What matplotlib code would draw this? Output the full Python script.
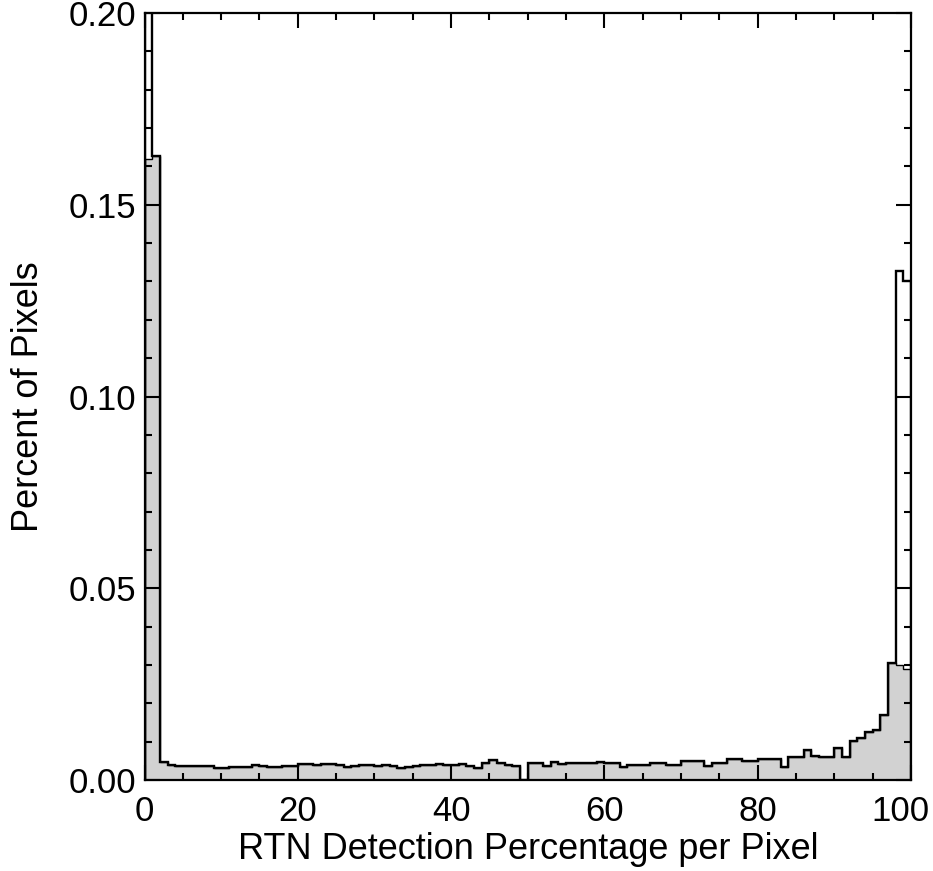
import numpy as np
import matplotlib
matplotlib.use("Agg")
import matplotlib.pyplot as plt
import matplotlib.transforms as mtransforms
from matplotlib.ticker import MultipleLocator, FormatStrFormatter, FuncFormatter

plt.rcParams["font.family"] = ["Liberation Sans", "DejaVu Sans"]

# histogram bin edges: 1% wide bins from 0 to 100
bin_edges = list(range(0, 101))

# fraction of pixels per bin (outline)
bins_0_9 = [0.310, 0.1627, 0.0048, 0.0040, 0.0036, 0.0036, 0.0036, 0.0036, 0.0037, 0.0032]
bins_10_19 = [0.0032, 0.0034, 0.0034, 0.0034, 0.0040, 0.0036, 0.0033, 0.0034, 0.0036, 0.0037]
bins_20_29 = [0.0042, 0.0042, 0.0040, 0.0042, 0.0042, 0.0038, 0.0034, 0.0037, 0.0040, 0.0040]
bins_30_39 = [0.0036, 0.0038, 0.0036, 0.0032, 0.0034, 0.0037, 0.0038, 0.0040, 0.0042, 0.0040]
bins_40_49 = [0.0038, 0.0042, 0.0036, 0.0030, 0.0044, 0.0052, 0.0044, 0.0040, 0.0036, 0.0]
bins_50_59 = [0.0045, 0.0045, 0.0037, 0.0048, 0.0041, 0.0045, 0.0045, 0.0045, 0.0045, 0.0048]
bins_60_69 = [0.0044, 0.0044, 0.0033, 0.0039, 0.0039, 0.0039, 0.0044, 0.0044, 0.0039, 0.0039]
bins_70_79 = [0.0050, 0.0050, 0.0050, 0.0037, 0.0044, 0.0044, 0.0054, 0.0054, 0.0050, 0.0050]
bins_80_89 = [0.0054, 0.0054, 0.0054, 0.0035, 0.0059, 0.0059, 0.0078, 0.0063, 0.0059, 0.0059]
bins_90_99 = [0.0083, 0.0061, 0.0102, 0.0110, 0.0124, 0.0131, 0.0170, 0.0304, 0.1328, 0.1300]

pct_pixels = (bins_0_9 + bins_10_19 + bins_20_29 + bins_30_39 + bins_40_49
              + bins_50_59 + bins_60_69 + bins_70_79 + bins_80_89 + bins_90_99)

# the shaded area stops short of the tallest bins
fill_pixels = list(pct_pixels)
fill_pixels[0] = 0.162
fill_pixels[98] = 0.030
fill_pixels[99] = 0.029

fig = plt.figure(figsize=(9.33, 8.71), dpi=100)
ax = fig.add_axes([0.1549, 0.1045, 0.8215, 0.8805])

ax.stairs(fill_pixels, bin_edges, fill=True, color="#d2d2d2", zorder=1)
ax.stairs(fill_pixels, bin_edges, color="black", linewidth=1.0, zorder=2)
ax.stairs(pct_pixels, bin_edges, color="black", linewidth=1.7, zorder=3)

ax.set_xlim(0, 100)
ax.set_ylim(0, 0.20)
ax.set_axisbelow(False)

ax.xaxis.set_major_locator(MultipleLocator(20))
ax.xaxis.set_minor_locator(MultipleLocator(5))
# the "100" label is placed by hand so it stays inside the figure
ax.xaxis.set_major_formatter(FuncFormatter(lambda v, p: "" if v >= 100 else "%d" % v))
ax.yaxis.set_major_locator(MultipleLocator(0.05))
ax.yaxis.set_minor_locator(MultipleLocator(0.01))
ax.yaxis.set_major_formatter(FormatStrFormatter("%.2f"))

ax.tick_params(which="both", direction="in", top=True, right=True,
               width=1.5, labelsize=25, colors="black")
ax.tick_params(which="major", length=10.5)
ax.tick_params(which="minor", length=5)
ax.tick_params(axis="x", which="major", pad=11)
ax.tick_params(axis="y", which="major", pad=6)
for spine in ax.spines.values():
    spine.set_linewidth(1.6)
    spine.set_zorder(6)

offset = mtransforms.ScaledTranslation(0.19, -11 / 72, fig.dpi_scale_trans)
ax.text(100, 0, "100", transform=ax.get_xaxis_transform() + offset,
        ha="right", va="top", fontsize=25)

ax.set_xlabel("RTN Detection Percentage per Pixel", fontsize=26, labelpad=3)
ax.set_ylabel("Percent of Pixels", fontsize=26, labelpad=16)

fig.savefig("out.png", dpi=100)
